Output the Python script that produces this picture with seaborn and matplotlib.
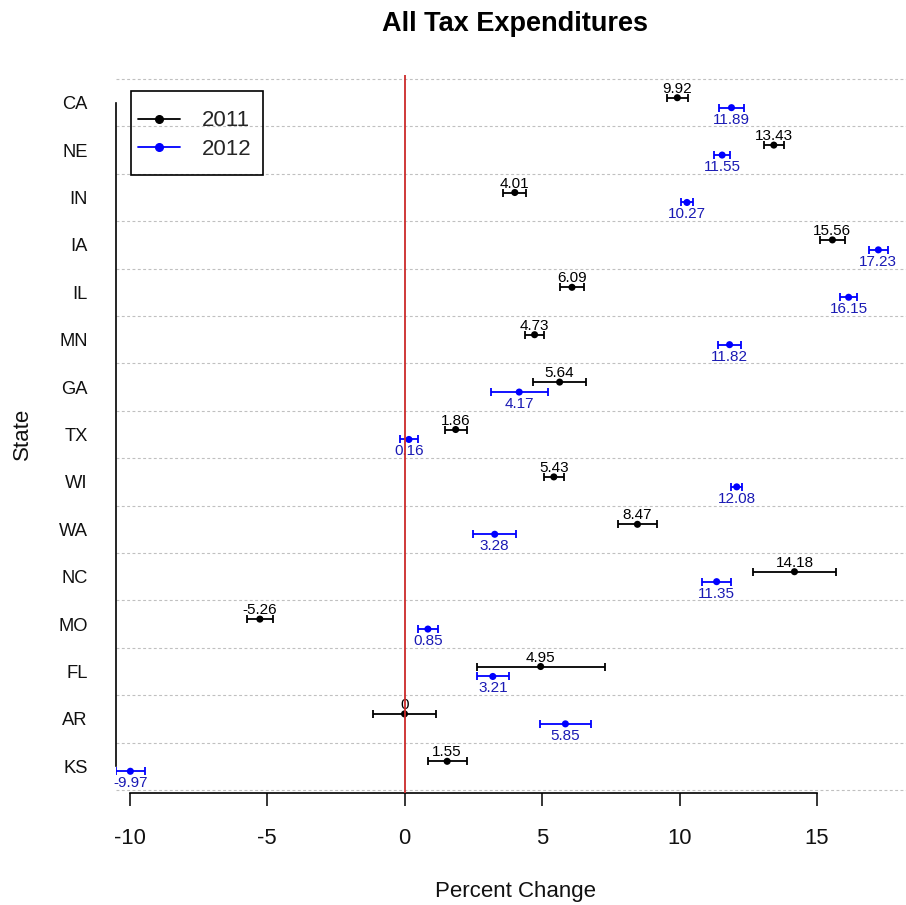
import numpy as np
import pandas as pd
import matplotlib
matplotlib.use("Agg")
import matplotlib.pyplot as plt
from matplotlib.lines import Line2D
from matplotlib.patches import Rectangle
import seaborn as sns

# Percent change in tax expenditures by state, with error margins
states = ["CA", "NE", "IN", "IA", "IL", "MN", "GA", "TX", "WI", "WA", "NC", "MO", "FL", "AR", "KS"]
change_2011 = [9.92, 13.43, 4.01, 15.56, 6.09, 4.73, 5.64, 1.86, 5.43, 8.47, 14.18, -5.26, 4.95, 0, 1.55]
change_2012 = [11.89, 11.55, 10.27, 17.23, 16.15, 11.82, 4.17, 0.16, 12.08, 3.28, 11.35, 0.85, 3.21, 5.85, -9.97]
err_2011 = [0.39, 0.37, 0.42, 0.45, 0.45, 0.35, 0.96, 0.40, 0.37, 0.70, 1.50, 0.48, 2.33, 1.14, 0.71]
err_2012 = [0.45, 0.30, 0.23, 0.35, 0.31, 0.42, 1.04, 0.32, 0.20, 0.79, 0.53, 0.36, 0.58, 0.92, 0.53]
years = ["2011", "2012"]
x_ticks = [-10, -5, 0, 5, 10, 15]

sns.set_theme(style="white")
plt.rcParams["font.family"] = ["Liberation Sans", "DejaVu Sans"]
plt.rcParams["axes.unicode_minus"] = False

colors = {"2011": "#000000", "2012": "#0000ff"}
text_colors = {"2011": "#000000", "2012": "#1a1ab4"}
offsets = {"2011": -0.105, "2012": 0.105}

rows = []
for year, vals, errs in [("2011", change_2011, err_2011), ("2012", change_2012, err_2012)]:
    for i, (st, v, e) in enumerate(zip(states, vals, errs)):
        rows.append({"state": st, "year": year, "change": v, "err": e,
                     "pos": i + offsets[year]})
df = pd.DataFrame(rows)

fig = plt.figure(figsize=(9.06, 9.05), dpi=100)
ax = fig.add_axes([115.5 / 906, (905 - 792.5) / 905, 798.5 / 906, 717.5 / 905])

# dotted separators between states
for b in np.arange(len(states) + 1) - 0.5:
    ax.axhline(b, color="#c0c0c0", lw=0.8, ls=(0, (2.6, 2.2)), zorder=1)

# error bars
for year in years:
    sub = df[df["year"] == year]
    ax.errorbar(sub["change"], sub["pos"], xerr=sub["err"], fmt="none",
                ecolor=colors[year], elinewidth=1.3, capsize=2.6, capthick=1.3, zorder=2)

sns.scatterplot(data=df, x="change", y="pos", hue="year", palette=colors,
                s=26, edgecolor="none", legend=False, ax=ax, zorder=3)

# value labels: 2011 above, 2012 below
for _, r in df.iterrows():
    label = f"{r['change']:g}"
    if r["year"] == "2011":
        ax.annotate(label, (r["change"], r["pos"]), xytext=(0, 3.6), textcoords="offset points",
                    ha="center", va="baseline", fontsize=11, color=text_colors["2011"], zorder=4)
    else:
        ax.annotate(label, (r["change"], r["pos"]), xytext=(0, -3.6), textcoords="offset points",
                    ha="center", va="top", fontsize=11, color=text_colors["2012"], zorder=4)

ax.axvline(0, color="#cc2a2a", lw=1.3, zorder=5)

ax.set_xlim(-10.51, 18.527)
ax.set_ylim(14.553, -0.584)

ax.set_yticks(range(len(states)))
ax.set_yticklabels(states)
ax.set_xticks(x_ticks)
ax.set_xticklabels([str(t) for t in x_ticks])

for side in ["top", "right"]:
    ax.spines[side].set_visible(False)
ax.spines["left"].set_bounds(0, len(states) - 1)
ax.spines["bottom"].set_bounds(-10, 15)
for side in ["left", "bottom"]:
    ax.spines[side].set_color("black")
    ax.spines[side].set_linewidth(1.2)

ax.tick_params(axis="y", length=0, pad=20, labelsize=13.2, labelcolor="#111111")
ax.tick_params(axis="x", direction="out", length=9.4, width=1.1, color="black",
               pad=16, labelsize=15.8, labelcolor="#111111", bottom=True)

ax.set_xlabel("Percent Change", fontsize=16, color="#111111", va="center")
ax.xaxis.set_label_coords(0.501, -0.1373)
ax.set_ylabel("State", fontsize=16, color="#111111", va="center")
ax.yaxis.set_label_coords(-0.1162, 0.5)

ax.set_title("All Tax Expenditures", fontsize=19.5, fontweight="bold", color="black",
             y=1.071, pad=0, va="center")

# legend entries, with a plain square frame around them
handles = [Line2D([0], [0], color=colors[y], lw=1.3, marker="o", markersize=5.5) for y in years]
leg = ax.legend(handles, years, loc="upper left", bbox_to_anchor=(138 / 906, 1 - 110.5 / 905),
                bbox_transform=fig.transFigure, borderaxespad=0, borderpad=0, fontsize=16,
                frameon=False, handlelength=1.89, handletextpad=0.98, labelspacing=0.33,
                numpoints=1)
fig.add_artist(Rectangle((131 / 906, 1 - 175 / 905), 132.3 / 906, 84.3 / 905,
                         transform=fig.transFigure, fill=False, edgecolor="black", lw=1.2))

fig.savefig("out.png", dpi=100)
